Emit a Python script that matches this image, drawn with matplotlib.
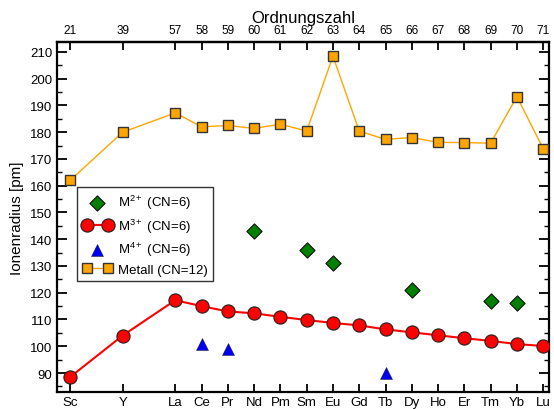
import matplotlib
matplotlib.use("Agg")
import matplotlib.pyplot as plt
import numpy as np

elements = ["Sc", "Y", "La", "Ce", "Pr", "Nd", "Pm", "Sm", "Eu", "Gd", "Tb",
            "Dy", "Ho", "Er", "Tm", "Yb", "Lu"]
positions = [0, 2, 4, 5, 6, 7, 8, 9, 10, 11, 12, 13, 14, 15, 16, 17, 18]
atomic_numbers = ["21", "39", "57", "58", "59", "60", "61", "62", "63", "64",
                  "65", "66", "67", "68", "69", "70", "71"]

m3 = [88.5, 104, 117.2, 115, 113, 112.3, 111, 109.8, 108.7, 107.8, 106.3,
      105.2, 104.1, 103, 102, 100.8, 100.1]
metal = [162, 180, 187.2, 182, 182.5, 181.4, 183, 180.4, 208.4, 180.4, 177.3,
         178, 176.2, 176.1, 175.9, 193.3, 173.8]
m2_el = ["Nd", "Sm", "Eu", "Dy", "Tm", "Yb"]
m2 = [143, 136, 131, 121, 117, 116]
m4_el = ["Ce", "Pr", "Tb"]
m4 = [101, 99, 90]

plt.rcParams['font.family'] = ['Liberation Sans', 'DejaVu Sans']
plt.rcParams['mathtext.fontset'] = 'custom'
plt.rcParams['mathtext.rm'] = 'Liberation Sans'
plt.rcParams['mathtext.it'] = 'Liberation Sans:italic'

fig = plt.figure(figsize=(5.54, 4.10), dpi=100)
ax = fig.add_axes([57/554, 1-393/410, (549-57)/554, (393-43)/410])

pos_of = dict(zip(elements, positions))

l_metal, = ax.plot(positions, metal, '-s', color='#FFA500', lw=1.0,
                   markersize=7, markerfacecolor='#FFA500',
                   markeredgecolor='#333333', markeredgewidth=1.0,
                   label='Metall (CN=12)', zorder=3)
l_m3, = ax.plot(positions, m3, '-o', color='#FF0000', lw=1.5,
                markersize=9.5, markerfacecolor='#FF0000',
                markeredgecolor='#222222', markeredgewidth=0.8,
                label='M$^{3+}$ (CN=6)', zorder=4)
s_m2 = ax.scatter([pos_of[e] for e in m2_el], m2, marker='D', s=60,
                  color='#008000', edgecolors='#111111', linewidths=0.8,
                  label='M$^{2+}$ (CN=6)', zorder=5)
s_m4 = ax.scatter([pos_of[e] for e in m4_el], m4, marker='^', s=75,
                  color='#0000EE', edgecolors='#111111', linewidths=0.3,
                  label='M$^{4+}$ (CN=6)', zorder=5)

ax.set_xlim(-0.5, 18.22)
ax.set_ylim(82.9, 213.7)

ax.set_xticks(positions)
ax.set_xticklabels(elements, fontsize=9.5)
ax.set_yticks(np.arange(90, 211, 10))
ax.set_yticks(np.arange(85, 214, 5), minor=True)
ax.tick_params(axis='y', which='major', direction='in', length=7, width=1.3,
               labelsize=9.5, right=True)
ax.tick_params(axis='y', which='minor', direction='in', length=3.5, width=1.0,
               right=True)
ax.tick_params(axis='x', which='major', direction='in', length=6, width=1.3,
               labelsize=9.5, pad=3)
ax.set_ylabel('Ionenradius [pm]', fontsize=11, labelpad=4)

ax2 = ax.secondary_xaxis('top')
ax2.set_xticks(positions)
ax2.set_xticklabels(atomic_numbers, fontsize=8.5)
ax2.tick_params(axis='x', direction='in', length=6, width=1.3, pad=4)
ax2.set_xlabel('Ordnungszahl', fontsize=12, labelpad=2)
for sp in ax2.spines.values():
    sp.set_linewidth(1.6)

for sp in ax.spines.values():
    sp.set_linewidth(1.6)

leg = ax.legend(handles=[s_m2, l_m3, s_m4, l_metal], loc='upper left',
                bbox_to_anchor=(0.04, 0.586), borderaxespad=0, numpoints=2,
                scatterpoints=1, fancybox=False, framealpha=1,
                edgecolor='#333333', fontsize=9.5, handlelength=2.2,
                labelspacing=0.4, borderpad=0.45, handletextpad=0.45)
leg.get_frame().set_linewidth(1.0)

fig.savefig('out.png', dpi=100)
